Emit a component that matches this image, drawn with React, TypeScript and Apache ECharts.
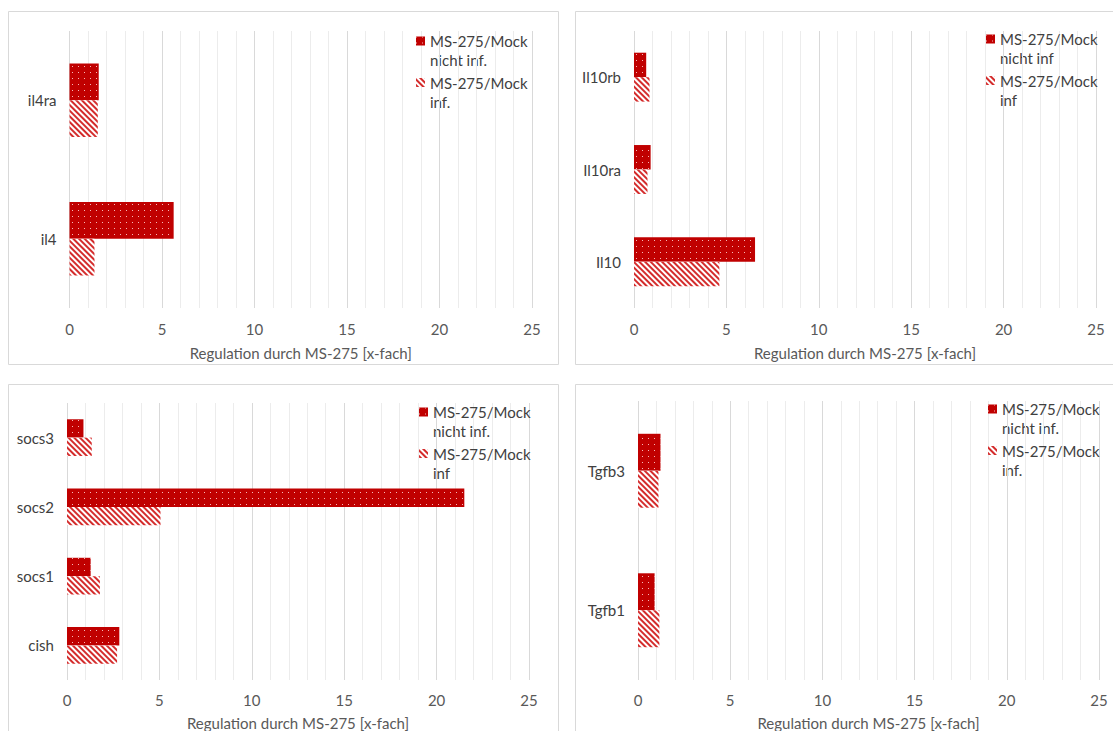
import React, { useEffect, useRef } from "react";
import * as echarts from "echarts";

// Interleukin-4 panel (top left)
const il4Categories = ["il4ra", "il4"];
const il4NichtInf = [1.58, 5.63];
const il4Inf = [1.53, 1.35];

// Interleukin-10 panel (top right)
const il10Categories = ["Il10rb", "Il10ra", "Il10"];
const il10NichtInf = [0.66, 0.9, 6.55];
const il10Inf = [0.84, 0.73, 4.62];

// SOCS panel (bottom left)
const socsCategories = ["socs3", "socs2", "socs1", "cish"];
const socsNichtInf = [0.89, 21.5, 1.28, 2.83];
const socsInf = [1.34, 5.06, 1.78, 2.71];

// TGF-beta panel (bottom right)
const tgfbCategories = ["Tgfb3", "Tgfb1"];
const tgfbNichtInf = [1.22, 0.9];
const tgfbInf = [1.11, 1.16];

const xMin = 0;
const xMax = 25;
const xInterval = 5;
const axisTitle = "Regulation durch MS-275 [x-fach]";

// legend labels per panel (two lines each)
const panelNames = [
  ["MS-275/Mock\nnicht inf.", "MS-275/Mock\ninf."],
  ["MS-275/Mock\nnicht inf", "MS-275/Mock\ninf"],
  ["MS-275/Mock\nnicht inf.", "MS-275/Mock\ninf"],
  ["MS-275/Mock\nnicht inf.", "MS-275/Mock\ninf."],
];

const FONT = "Lato";
const RED = "#C00000";
const LEGEND_TEXT = "#404040";

const dottedStyle = {
  color: RED,
  decal: {
    symbol: "rect",
    symbolSize: 1,
    color: "rgba(255,215,215,0.85)",
    dashArrayX: [1, 5],
    dashArrayY: [1, 5],
  },
};

const hatchedStyle = {
  color: "#ffffff",
  decal: {
    symbol: "rect",
    symbolSize: 1,
    color: "#d42c2c",
    dashArrayX: [1, 0],
    dashArrayY: [1.1, 1.9],
    rotation: Math.PI / 4,
  },
};

export default function App() {
  const ref = useRef<HTMLDivElement>(null);

  useEffect(() => {
    if (!ref.current) return;
    const chart = echarts.init(ref.current, undefined, { renderer: "svg" });

    const grids = [
      { left: 69.5, top: 31, width: 462.5, height: 277 },
      { left: 634, top: 31, width: 462, height: 277 },
      { left: 67, top: 403, width: 462, height: 279 },
      { left: 638, top: 401, width: 461, height: 279 },
    ];
    const cats = [il4Categories, il10Categories, socsCategories, tgfbCategories];
    const dotted = [il4NichtInf, il10NichtInf, socsNichtInf, tgfbNichtInf];
    const hatched = [il4Inf, il10Inf, socsInf, tgfbInf];
    const labelMargin = [13, 13, 12, 12];
    const nameGap = [37, 37, 35, 35];

    // legend placement: marker left edge and centre of the first text line
    const legendLeft = [416, 986, 419, 988];
    const legendFirstLine = [41, 39, 412, 409];
    const LINE = 19;
    const ITEM_STEP = 41.5;

    const xAxes = grids.map((_, i) => ({
      type: "value",
      gridIndex: i,
      min: xMin,
      max: xMax,
      interval: xInterval,
      axisLine: { show: false },
      axisTick: { show: false },
      axisLabel: {
        color: "#595959",
        fontFamily: FONT,
        fontSize: 15,
        margin: labelMargin[i],
      },
      splitLine: { show: true, lineStyle: { color: "#d9d9d9", width: 1 } },
      minorTick: { show: false, splitNumber: 5 },
      minorSplitLine: { show: true, lineStyle: { color: "#ececec", width: 1 } },
      name: axisTitle,
      nameLocation: "middle",
      nameGap: nameGap[i],
      nameTextStyle: { color: "#595959", fontFamily: FONT, fontSize: 15 },
    }));

    const yAxes = grids.map((_, i) => ({
      type: "category",
      gridIndex: i,
      data: cats[i],
      inverse: true,
      axisLine: { show: false },
      axisTick: { show: false },
      axisLabel: {
        color: "#404040",
        fontFamily: FONT,
        fontSize: 15,
        margin: 13,
      },
      splitLine: { show: false },
    }));

    const series: any[] = [];
    grids.forEach((_, i) => {
      series.push({
        type: "bar",
        name: panelNames[i][0],
        xAxisIndex: i,
        yAxisIndex: i,
        data: dotted[i],
        barGap: "0%",
        barCategoryGap: "47%",
        itemStyle: dottedStyle,
        emphasis: { disabled: true },
      });
      series.push({
        type: "bar",
        name: panelNames[i][1],
        xAxisIndex: i,
        yAxisIndex: i,
        data: hatched[i],
        barGap: "0%",
        barCategoryGap: "47%",
        itemStyle: hatchedStyle,
        emphasis: { disabled: true },
      });
    });

    // the legend shows the first line of each name next to its marker;
    // the second line is set underneath as a separate text
    const legends = grids.map((_, i) => ({
      orient: "vertical",
      left: legendLeft[i],
      top: legendFirstLine[i] - LINE / 2,
      padding: 0,
      icon: "rect",
      itemWidth: 9,
      itemHeight: 9,
      itemGap: ITEM_STEP - LINE,
      selectedMode: false,
      data: panelNames[i],
      formatter: (name: string) => name.split("\n")[0],
      textStyle: {
        color: LEGEND_TEXT,
        fontFamily: FONT,
        fontSize: 15,
        lineHeight: LINE,
      },
    }));

    const secondLines: any[] = [];
    grids.forEach((_, i) => {
      panelNames[i].forEach((name, k) => {
        secondLines.push({
          type: "text",
          silent: true,
          x: legendLeft[i] + 14,
          y: legendFirstLine[i] + k * ITEM_STEP + LINE,
          style: {
            text: name.split("\n")[1],
            fill: LEGEND_TEXT,
            font: `15px ${FONT}`,
            verticalAlign: "middle",
            align: "left",
          },
        });
      });
    });

    const border = { stroke: "#d9d9d9", lineWidth: 1, fill: "none" };
    const graphic = [
      { type: "rect", shape: { x: 8.5, y: 11.5, width: 550, height: 353 }, style: border, silent: true },
      { type: "rect", shape: { x: 575.5, y: 11.5, width: 600, height: 353 }, style: border, silent: true },
      { type: "rect", shape: { x: 8.5, y: 384.5, width: 550, height: 400 }, style: border, silent: true },
      { type: "rect", shape: { x: 575.5, y: 384.5, width: 600, height: 400 }, style: border, silent: true },
      ...secondLines,
    ];

    chart.setOption({
      animation: false,
      backgroundColor: "#ffffff",
      grid: grids,
      xAxis: xAxes,
      yAxis: yAxes,
      legend: legends,
      series,
      graphic,
    });

    return () => chart.dispose();
  }, []);

  return (
    <div
      ref={ref}
      style={{ position: "absolute", left: 0, top: 0, width: 1113, height: 731 }}
    />
  );
}
